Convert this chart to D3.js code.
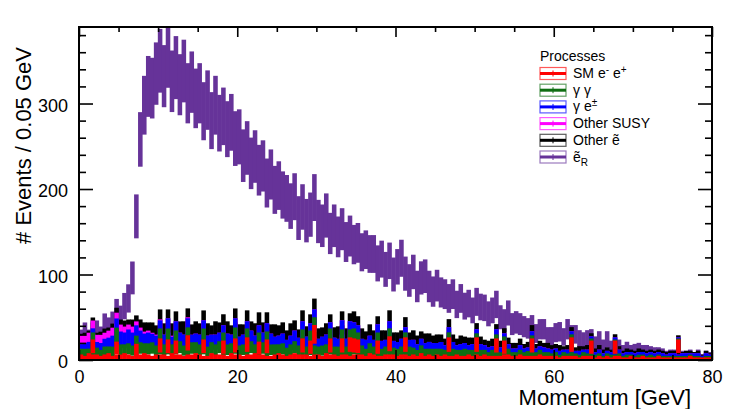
<!DOCTYPE html>
<html>
<head>
<meta charset="utf-8">
<script src="https://cdn.jsdelivr.net/npm/d3@7"></script>
<style>
  body { margin: 0; background: #fff; }
  svg { font-family: 'Liberation Sans', Arial, Helvetica, sans-serif; }
</style>
</head>
<body>
<div class="chart"></div>
<script>
// 每個 bin 0.5 GeV，共 160 個 bin (0-80 GeV)
const binWidth = 0.5;

// 各 process 的貢獻 (非累積)
const smee = [
  3,2,4,3,3,2,3,4,2,3,
  3,4,3,2,3,3,4,3,2,3,
  3,3,2,4,3,3,2,3,3,4,
  3,2,2,4,3,3,3,2,4,3,
  3,2,3,3,4,3,3,2,2,3,
  4,3,2,3,4,3,3,3,2,3,
  3,2,4,3,3,2,3,3,2,3,
  3,3,2,4,3,2,2,3,3,3,
  2,3,3,2,3,2,4,2,3,2,
  3,2,3,2,2,3,2,2,3,2,
  3,2,3,2,2,2,2,3,3,2,
  2,3,2,2,2,2,3,2,2,2,
  2,1,2,2,2,2,1,2,2,2,
  1,2,1,2,1,2,2,1,1,2,
  1,1,2,1,1,1,2,1,1,1,
  1,1,1,1,2,1,1,1,1,1
];
// SM e+e- 的高權重事件 (紅色尖峰): 位置 GeV 與高度
const smeeSpikeGeV = [1.75, 4.75, 7.25, 10.25, 11.25, 12.25, 13.75, 15.75, 18.25, 19.75,
  21.25, 22.75, 23.75, 28.25, 29.25, 29.75, 31.75, 33.25, 34.25, 34.75, 35.25, 37.75,
  39.25, 41.25, 46.75, 50.25, 52.75, 53.75, 57.25, 62.25, 64.75, 67.75, 75.75];
const smeeSpikeVal = [16, 14, 12, 17, 16, 15, 20, 16, 15, 17,
  18, 14, 16, 17, 15, 30, 17, 17, 18, 17, 16, 15,
  19, 18, 18, 18, 17, 15, 17, 18, 15, 15, 16];

const gammaGamma = [
  5,6,4,7,6,5,7,6,8,14,
  9,8,10,9,8,11,9,10,12,8,
  10,9,11,8,10,12,9,8,11,10,
  9,11,8,10,9,12,8,10,9,11,
  8,10,9,12,8,9,11,8,10,9,
  8,10,7,9,11,8,9,7,10,8,
  7,9,8,10,7,8,9,7,8,10,
  7,8,6,9,7,8,6,7,8,6,
  6,7,5,8,6,5,7,6,5,6,
  5,6,4,5,6,4,5,6,4,5,
  4,5,4,3,5,4,3,4,5,3,
  3,4,3,4,3,3,4,3,3,2,
  3,2,3,2,3,2,2,3,2,2,
  2,2,1,2,2,1,2,1,2,1,
  1,2,1,1,2,1,1,1,1,1,
  1,1,1,1,1,1,1,0,1,1
];
const gammaE = [
  4,5,6,4,5,6,7,8,10,9,
  12,11,13,12,10,11,9,10,8,9,
  8,9,10,7,9,8,10,9,7,8,
  9,8,10,7,9,8,7,10,8,9,
  8,9,7,10,8,7,9,8,10,7,
  8,9,7,8,10,7,8,9,7,8,
  7,8,9,6,8,7,9,7,8,6,
  7,6,8,7,6,8,7,6,7,6,
  6,7,5,6,7,5,6,5,6,5,
  5,6,4,5,6,4,5,5,4,5,
  4,5,4,4,3,5,4,3,4,3,
  3,4,3,3,4,3,3,4,3,3,
  3,3,2,3,3,2,3,2,3,2,
  2,3,2,2,2,2,3,2,2,2,
  2,2,2,2,2,2,2,2,1,2,
  2,1,2,2,1,2,2,1,2,1
];
const otherSusy = [
  8,7,9,8,7,8,6,7,8,6,
  7,6,5,6,4,3,2,2,1,1,
  1,0,0,1,0,0,0,1,0,0,
  0,0,0,0,0,0,0,0,0,0,
  0,0,0,0,0,0,0,0,0,0,
  0,0,0,0,0,0,0,0,0,0,
  0,0,0,0,0,0,0,0,0,0,
  0,0,0,0,0,0,0,0,0,0,
  0,0,0,0,0,0,0,0,0,0,
  0,0,0,0,0,0,0,0,0,0,
  0,0,0,0,0,0,0,0,0,0,
  0,0,0,0,0,0,0,0,0,0,
  0,0,0,0,0,0,0,0,0,0,
  0,0,0,0,0,0,0,0,0,0,
  0,0,0,0,0,0,0,0,0,0,
  0,0,0,0,0,0,0,0,0,0
];
const otherSe = [
  2,3,2,3,2,3,4,3,4,5,
  5,6,5,7,6,8,9,8,10,9,
  10,11,9,12,10,11,13,9,10,12,
  11,10,12,9,13,10,11,12,9,10,
  12,10,11,9,12,13,10,11,9,12,
  10,11,9,12,10,8,11,10,9,11,
  10,9,11,8,10,12,9,10,8,11,
  9,10,8,11,9,8,10,9,11,8,
  9,8,10,7,9,8,7,9,8,7,
  8,7,6,8,7,6,8,6,7,6,
  6,7,5,6,7,5,6,5,6,5,
  5,6,4,5,6,4,5,4,5,4,
  4,5,3,4,4,3,4,3,4,3,
  3,4,3,3,2,3,3,2,3,2,
  2,3,2,2,2,2,2,2,2,2,
  2,2,1,2,2,1,2,1,2,1
];
const seR = [
  4,10,1,8,12,5,15,10,12,20,
  14,28,36,60,137,222,265,287,285,305,
  318,300,324,294,310,288,304,282,294,272,
  280,260,272,250,264,244,256,236,248,226,
  230,208,218,196,206,190,194,178,186,168,
  174,160,164,148,156,140,148,134,142,160,
  135,129,137,121,129,115,123,111,119,105,
  111,99,105,93,99,87,93,81,87,77,
  86,94,78,70,78,66,72,76,64,60,
  66,58,60,52,56,48,52,44,48,40,
  51,43,45,39,41,49,35,31,37,29,
  31,25,27,23,25,19,21,23,15,17,
  20,22,17,25,18,21,15,13,14,17,
  11,13,9,15,8,7,6,5,6,4,
  6,5,4,5,3,3,2,2,1,1,
  1,1,1,0,1,0,1,0,0,1
];

// 每個 process 的事件權重 (error = sqrt(sum w*v))
const weights = [4, 3, 4, 3, 4, 4];
const colors = ['#ff0000', '#0f6e12', '#0000ff', '#ff00ff', '#000000', '#663399'];

// 圖例文字 (sup / sub 表示上下標)
const legendTitle = 'Processes';
const legendLabels = [
  [['SM e', ''], ['-', 'sup'], [' e', ''], ['+', 'sup']],
  [['\u03b3 \u03b3', '']],
  [['\u03b3 e', ''], ['\u00b1', 'sup']],
  [['Other SUSY', '']],
  [['Other \u1ebd', '']],
  [['\u1ebd', ''], ['R', 'sub']]
];

// 刻度
const xTicks = [0, 20, 40, 60, 80];
const xMinor = [5, 10, 15, 25, 30, 35, 45, 50, 55, 65, 70, 75];
const yTicks = [0, 100, 200, 300];
const yMinor = [20, 40, 60, 80, 120, 140, 160, 180, 220, 240, 260, 280, 320, 340, 360, 380];
const xRange = [0, 80];
const yMax = 389.5;

const W = 747, H = 409;
const frame = {left: 79, right: 712, top: 27, bottom: 360};

const svg = d3.select('.chart').append('svg')
  .attr('width', W).attr('height', H);

const x = d3.scaleLinear(xRange, [frame.left, frame.right]);
const y = d3.scaleLinear([0, yMax], [frame.bottom, frame.top]);

// THStack: 累積和，誤差為各層 w*v 的和開根號
const layers = [smee, gammaGamma, gammaE, otherSusy, otherSe, seR];

function stackBin(i, redValue, k) {
  let v = 0, s = 0;
  for (let j = 0; j <= k; j++) {
    const val = j === 0 ? redValue : layers[j][i];
    v += val;
    s += weights[j] * val;
  }
  return {lo: i * binWidth, v: v, e: Math.sqrt(s)};
}

const stacked = layers.map((arr, k) => {
  const rows = arr.map((_, i) => stackBin(i, smee[i], k));
  // 尖峰只疊到背景層 (頂層 ẽR 的起伏已經蓋過)
  if (k < layers.length - 1) {
    smeeSpikeGeV.forEach((g, n) => {
      const i = Math.floor(g / binWidth);
      rows.push(stackBin(i, smeeSpikeVal[n], k));
    });
  }
  return rows;
});

svg.append('clipPath').attr('id', 'frameClip')
  .append('rect')
  .attr('x', frame.left).attr('y', frame.top)
  .attr('width', frame.right - frame.left)
  .attr('height', frame.bottom - frame.top + 2);

const plot = svg.append('g').attr('clip-path', 'url(#frameClip)');
const bw = x(binWidth) - x(0);

// ROOT 由最上層 (總和) 開始畫，底層最後蓋上去
for (let k = layers.length - 1; k >= 0; k--) {
  plot.append('g').attr('class', 'layer')
    .selectAll('rect').data(stacked[k]).join('rect')
    .attr('x', d => x(d.lo) - 0.3)
    .attr('width', bw + 0.6)
    .attr('y', d => y(d.v + d.e))
    .attr('height', d => y(Math.max(d.v - d.e, 0)) - y(d.v + d.e))
    .attr('fill', colors[k]);
}

// 軸 (刻度向內)
function styleAxis(g) {
  g.select('.domain').remove();
  g.selectAll('line').attr('stroke', '#000').attr('stroke-width', 1.6);
  g.selectAll('text').attr('font-size', 18).attr('fill', '#000')
    .attr('font-family', "'Liberation Sans', Arial, sans-serif");
}

svg.append('g').attr('transform', `translate(0,${frame.bottom})`)
  .call(d3.axisBottom(x).tickValues(xTicks).tickFormat(d3.format('d'))
    .tickSizeInner(-10).tickSizeOuter(0).tickPadding(10))
  .call(styleAxis);
svg.append('g').attr('transform', `translate(0,${frame.bottom})`)
  .call(d3.axisBottom(x).tickValues(xMinor).tickFormat('').tickSizeInner(-5).tickSizeOuter(0))
  .call(styleAxis);
svg.append('g').attr('transform', `translate(0,${frame.top})`)
  .call(d3.axisTop(x).tickValues(xTicks).tickFormat('').tickSizeInner(-10).tickSizeOuter(0))
  .call(styleAxis);
svg.append('g').attr('transform', `translate(0,${frame.top})`)
  .call(d3.axisTop(x).tickValues(xMinor).tickFormat('').tickSizeInner(-5).tickSizeOuter(0))
  .call(styleAxis);

svg.append('g').attr('transform', `translate(${frame.left},0)`)
  .call(d3.axisLeft(y).tickValues(yTicks).tickFormat(d3.format('d'))
    .tickSizeInner(-14).tickSizeOuter(0).tickPadding(11))
  .call(styleAxis)
  .selectAll('text').attr('dy', '0.44em');
svg.append('g').attr('transform', `translate(${frame.left},0)`)
  .call(d3.axisLeft(y).tickValues(yMinor).tickFormat('').tickSizeInner(-7).tickSizeOuter(0))
  .call(styleAxis);
svg.append('g').attr('transform', `translate(${frame.right},0)`)
  .call(d3.axisRight(y).tickValues(yTicks).tickFormat('').tickSizeInner(-14).tickSizeOuter(0))
  .call(styleAxis);
svg.append('g').attr('transform', `translate(${frame.right},0)`)
  .call(d3.axisRight(y).tickValues(yMinor).tickFormat('').tickSizeInner(-7).tickSizeOuter(0))
  .call(styleAxis);

// 外框
svg.append('rect')
  .attr('x', frame.left).attr('y', frame.top)
  .attr('width', frame.right - frame.left).attr('height', frame.bottom - frame.top)
  .attr('fill', 'none').attr('stroke', '#000').attr('stroke-width', 2);

// 軸標題
svg.append('text')
  .attr('x', 691).attr('y', 405)
  .attr('text-anchor', 'end').attr('font-size', 22)
  .text('Momentum [GeV]');
svg.append('text')
  .attr('transform', 'translate(31,47) rotate(-90)')
  .attr('text-anchor', 'end').attr('font-size', 22)
  .text('# Events / 0.05 GeV');

// 圖例
const legend = svg.append('g').attr('class', 'legend');
legend.append('text').attr('x', 540).attr('y', 61).attr('font-size', 14).text(legendTitle);

const rowGap = 16.7;
legendLabels.forEach((parts, k) => {
  const base = 78 + k * rowGap;
  const cy = base - 4.5;
  const row = legend.append('g');
  row.append('rect')
    .attr('x', 540).attr('y', cy - 6).attr('width', 26).attr('height', 12)
    .attr('fill', 'none').attr('stroke', colors[k]).attr('stroke-opacity', 0.65).attr('stroke-width', 1.2);
  row.append('line')
    .attr('x1', 540).attr('x2', 566).attr('y1', cy).attr('y2', cy)
    .attr('stroke', colors[k]).attr('stroke-width', 3);
  row.append('line')
    .attr('x1', 553).attr('x2', 553).attr('y1', cy - 3).attr('y2', cy + 3)
    .attr('stroke', colors[k]).attr('stroke-width', 1);

  const t = row.append('text').attr('x', 573).attr('y', base).attr('font-size', 14);
  let shift = 0;
  parts.forEach(([str, mode]) => {
    const target = mode === 'sup' ? -5 : mode === 'sub' ? 4 : 0;
    t.append('tspan')
      .attr('dy', target - shift)
      .attr('font-size', mode ? 10 : 14)
      .text(str);
    shift = target;
  });
});
</script>
</body>
</html>
